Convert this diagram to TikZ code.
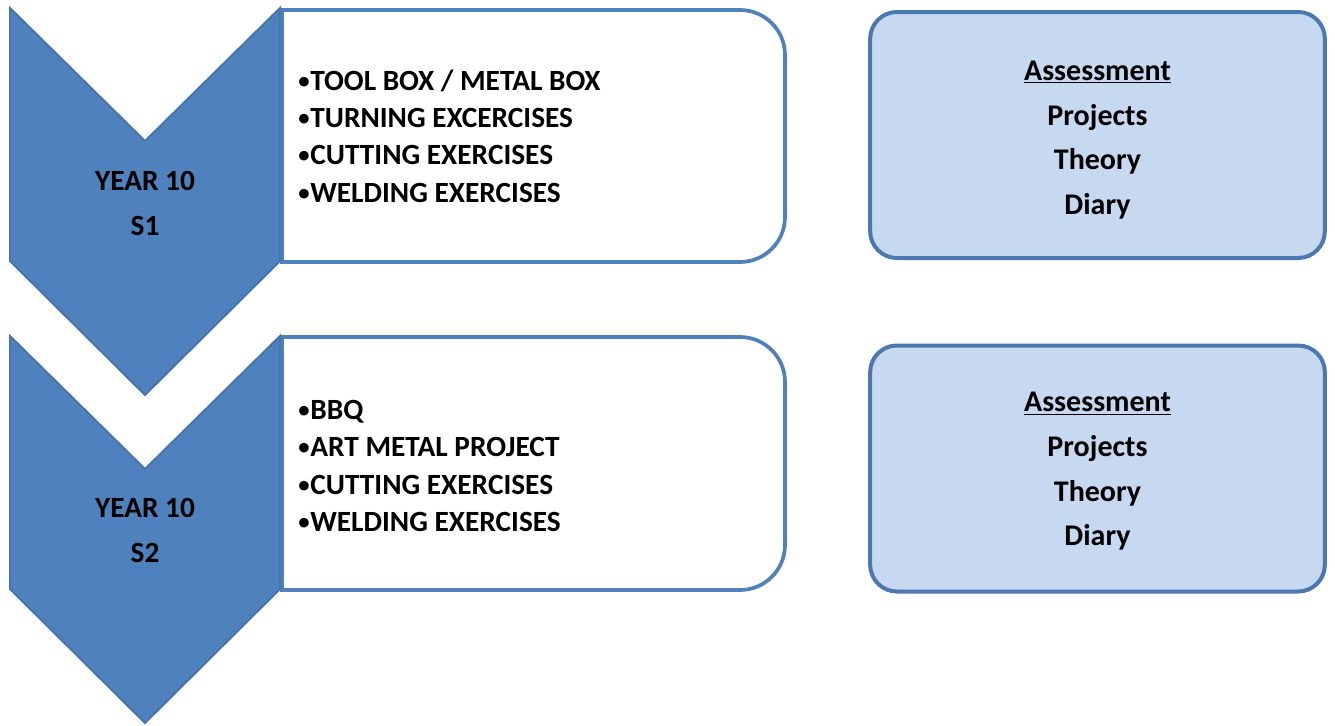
\documentclass[tikz,border=0pt]{standalone}
\usepackage{fontspec}
\setmainfont{Carlito}
\usetikzlibrary{positioning}

\definecolor{chevfill}{HTML}{4F81BD}
\definecolor{chevline}{HTML}{4675AD}
\definecolor{listline}{HTML}{4F81BD}
\definecolor{assessfill}{HTML}{C6D9F1}
\definecolor{assessline}{HTML}{4A78AF}

\newcommand{\smallbullet}{\raisebox{1.6pt}{\fontsize{17}{17}\selectfont•}\kern0.5pt}

\begin{document}
\begin{tikzpicture}[x=0.75pt, y=0.75pt, semithick,
        chevron/.style={fill=chevfill, draw=chevline, line width=1.5pt, line join=miter},
        listbox/.style={fill=white, draw=listline, line width=2.8pt},
        assessbox/.style={fill=assessfill, draw=assessline, line width=3pt, rounded corners=20pt,
            minimum width=341pt, minimum height=184.5pt},
        chevtext/.style={align=center, inner sep=0pt, font=\bfseries\fontsize{22}{33.75}\selectfont},
        listtext/.style={align=left, anchor=west, inner sep=0pt, font=\bfseries\fontsize{22}{28}\selectfont},
        assesstext/.style={align=center, inner sep=0pt, font=\bfseries\fontsize{22.5}{33.5}\selectfont}]
            \useasboundingbox (0, 0) rectangle (1335, -725);

            % white list boxes, only the right corners are round
            \draw[listbox] (282, -262) -- (282, -10) -- (740, -10)
                arc[start angle=90, end angle=0, radius=45] -- (785, -217)
                arc[start angle=0, end angle=-90, radius=45] -- cycle;
            \draw[listbox] (282, -590) -- (282, -337) -- (740, -337)
                arc[start angle=90, end angle=0, radius=45] -- (785, -545)
                arc[start angle=0, end angle=-90, radius=45] -- cycle;

            \newcommand{\yearchevron}[1]{
                \draw[chevron] (10, -#1) -- (145, -#1-133) -- (280, -#1) -- (280, -#1-253)
                    -- (145, -#1-387) -- (10, -#1-253) -- cycle;
            }

            \yearchevron{8};
            \yearchevron{336};

            \node[chevtext] (year1) at (145, -203.5) {YEAR 10\\S1};
            \node[chevtext] (year2) at (145, -530.5) {YEAR 10\\S2};

            \node[listtext] (list1) at (298, -136) {\smallbullet TOOL BOX / METAL BOX\\\smallbullet TURNING EXCERCISES\\\smallbullet CUTTING EXERCISES\\\smallbullet WELDING EXERCISES};
            \node[listtext] (list2) at (298, -466) {\smallbullet BBQ\\\smallbullet ART METAL PROJECT\\\smallbullet CUTTING EXERCISES\\\smallbullet WELDING EXERCISES};

            \node[assessbox] (assess1) at (1097.5, -135) {};
            \node[assessbox] (assess2) at (1097.5, -468.5) {};
            \node[assesstext] (marks1) at (assess1.center) [yshift=-3.75pt] {\underline{Assessment}\\Projects\\Theory\\Diary};
            \node[assesstext] (marks2) at (assess2.center) [yshift=-2.25pt] {\underline{Assessment}\\Projects\\Theory\\Diary};
        \end{tikzpicture}
\end{document}
